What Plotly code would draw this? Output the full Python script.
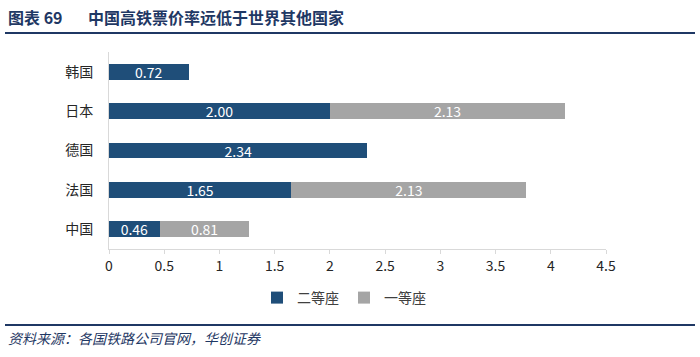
import plotly.graph_objects as go

countries = ["中国", "法国", "德国", "日本", "韩国"]
second_class = [0.46, 1.65, 2.34, 2.00, 0.72]
first_class = [0.81, 2.13, None, 2.13, None]
x_ticks = [0, 0.5, 1, 1.5, 2, 2.5, 3, 3.5, 4, 4.5]
x_tick_labels = ["0", "0.5", "1", "1.5", "2", "2.5", "3", "3.5", "4", "4.5"]

W, H = 700, 357
L, R, T, B = 109, 606, 52, 249

def px(x):
    return (x - L) / (R - L)

def py(y):
    return (B - y) / (B - T)

font_family = "Noto Sans CJK SC, Noto Sans, sans-serif"

fig = go.Figure()
fig.add_trace(go.Bar(
    y=countries, x=second_class, orientation="h", name="二等座",
    marker=dict(color="#1F4E79", line=dict(width=0)),
    text=[f"{v:.2f}" for v in second_class], textposition="inside",
    insidetextanchor="middle", textfont=dict(color="white", size=14),
    width=0.4,
))
fig.add_trace(go.Bar(
    y=countries, x=first_class, orientation="h", name="一等座",
    marker=dict(color="#A5A5A5", line=dict(width=0)),
    text=[f"{v:.2f}" if v is not None else "" for v in first_class], textposition="inside",
    insidetextanchor="middle", textfont=dict(color="white", size=14),
    width=0.4,
))

fig.update_layout(
    width=W, height=H,
    margin=dict(l=L, r=W - R, t=T, b=H - B),
    barmode="stack",
    plot_bgcolor="white", paper_bgcolor="white",
    font=dict(family=font_family, size=14, color="#262626"),
    uniformtext=dict(minsize=11, mode="show"),
    showlegend=True,
    legend=dict(orientation="h", x=px(344), xanchor="center", y=py(298), yanchor="middle",
                font=dict(size=14, color="#404040"), itemwidth=30,
                traceorder="normal", bgcolor="rgba(0,0,0,0)"),
    xaxis=dict(range=[0, 4.5], tickvals=x_ticks, ticktext=x_tick_labels,
               showgrid=False, zeroline=False, showline=True, linecolor="#D9D9D9",
               ticks="outside", ticklen=4, tickcolor="#D9D9D9",
               tickfont=dict(size=14, color="#262626"), fixedrange=True),
    yaxis=dict(range=[-0.5, 4.5], showgrid=False, zeroline=False, showline=True,
               linecolor="#D9D9D9", ticks="", ticklabelstandoff=12,
               tickfont=dict(size=14, color="#262626"), fixedrange=True),
)

shapes = [
    dict(type="line", xref="paper", yref="paper", x0=px(5), x1=px(695), y0=py(33), y1=py(33),
         line=dict(color="#1F3864", width=2)),
    dict(type="line", xref="paper", yref="paper", x0=px(5), x1=px(695), y0=py(325), y1=py(325),
         line=dict(color="#1F3864", width=2)),
]
fig.update_layout(shapes=shapes)

fig.add_annotation(xref="paper", yref="paper", x=px(6), y=py(17), xanchor="left", yanchor="middle",
                   text="<b>图表 69</b>", showarrow=False,
                   font=dict(size=16, color="#1F3864", family=font_family))
fig.add_annotation(xref="paper", yref="paper", x=px(86), y=py(17), xanchor="left", yanchor="middle",
                   text="<b>中国高铁票价率远低于世界其他国家</b>", showarrow=False,
                   font=dict(size=16, color="#1F3864", family=font_family))
fig.add_annotation(xref="paper", yref="paper", x=px(6), y=py(338), xanchor="left", yanchor="middle",
                   text="<i>资料来源：各国铁路公司官网，华创证券</i>", showarrow=False,
                   font=dict(size=14, color="#1F3864", family=font_family))

fig.write_html("out.html", config={"displayModeBar": False},
               post_script="document.body.style.margin='0';document.body.style.overflow='hidden';")
